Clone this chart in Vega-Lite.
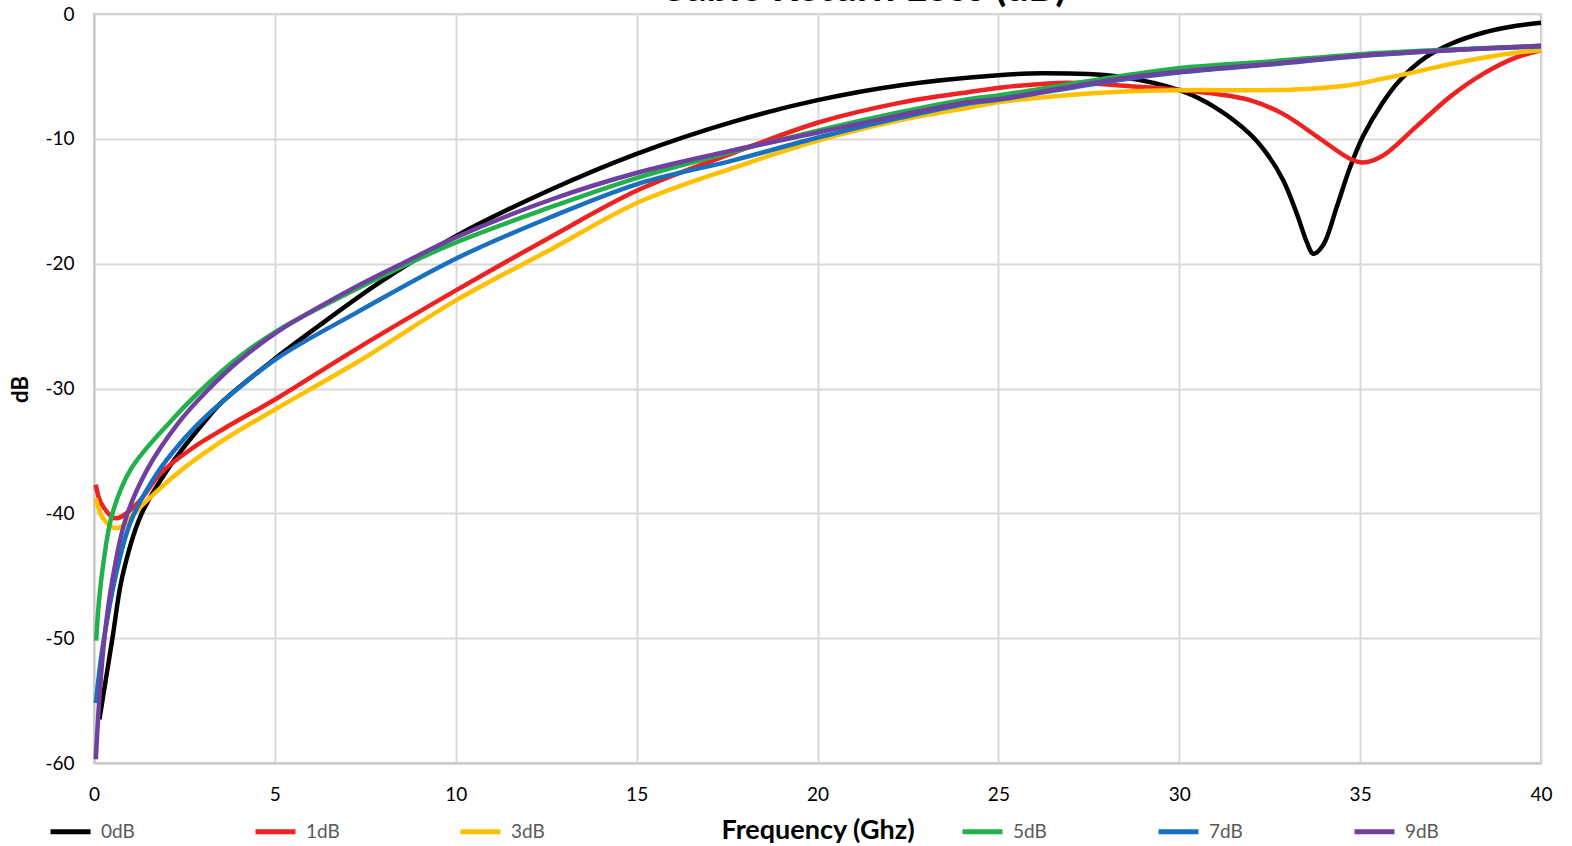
{
"$schema": "https://vega.github.io/schema/vega-lite/v6.json",
"width": 1447, "height": 749,
"autosize": {"type": "none"},
"padding": {"left": 94, "top": 14, "right": 31, "bottom": 83},
"background": "white",
"title": {"text": "Cable Return Loss (dB)", "fontSize": 41, "fontWeight": "bold", "font": "Lato", "color": "#000000", "anchor": "middle", "frame": "group", "dx": 45, "dy": 39, "offset": 2, "baseline": "alphabetic"},
"config": {"view": {"stroke": "#c9c9c9", "strokeWidth": 2}, "font": "Lato"},
"data": {"values": [
{"s":"0dB","f":0.15,"db":-56.5},{"s":"0dB","f":0.51,"db":-50.0},{"s":"0dB","f":0.78,"db":-45.1},{"s":"0dB","f":1.29,"db":-40.2},{"s":"0dB","f":2.03,"db":-36.5},{"s":"0dB","f":3.1,"db":-32.5},{"s":"0dB","f":3.57,"db":-31.0},{"s":"0dB","f":5.05,"db":-27.5},{"s":"0dB","f":6.3,"db":-24.8},{"s":"0dB","f":7.9,"db":-21.5},{"s":"0dB","f":10,"db":-17.8},{"s":"0dB","f":12.6,"db":-14.1},{"s":"0dB","f":15,"db":-11.2},{"s":"0dB","f":17.7,"db":-8.6},{"s":"0dB","f":20,"db":-6.9},{"s":"0dB","f":22.3,"db":-5.7},{"s":"0dB","f":25,"db":-4.9},{"s":"0dB","f":26.2,"db":-4.75},{"s":"0dB","f":28.3,"db":-5.0},{"s":"0dB","f":30.1,"db":-6.2},{"s":"0dB","f":31.0,"db":-7.5},{"s":"0dB","f":31.95,"db":-9.6},{"s":"0dB","f":32.4,"db":-11.1},{"s":"0dB","f":32.87,"db":-13.3},{"s":"0dB","f":33.25,"db":-16.0},{"s":"0dB","f":33.53,"db":-18.3},{"s":"0dB","f":33.7,"db":-19.2},{"s":"0dB","f":33.98,"db":-18.5},{"s":"0dB","f":34.36,"db":-15.4},{"s":"0dB","f":34.72,"db":-12.3},{"s":"0dB","f":35.08,"db":-9.8},{"s":"0dB","f":35.6,"db":-7.2},{"s":"0dB","f":36.1,"db":-5.3},{"s":"0dB","f":36.8,"db":-3.5},{"s":"0dB","f":37.5,"db":-2.4},{"s":"0dB","f":38.4,"db":-1.5},{"s":"0dB","f":39.2,"db":-1.0},{"s":"0dB","f":40,"db":-0.7},
{"s":"1dB","f":0.05,"db":-37.7},{"s":"1dB","f":0.2,"db":-39.2},{"s":"1dB","f":0.6,"db":-40.4},{"s":"1dB","f":1.2,"db":-39.2},{"s":"1dB","f":1.84,"db":-36.8},{"s":"1dB","f":2.76,"db":-34.7},{"s":"1dB","f":3.6,"db":-33.2},{"s":"1dB","f":5.05,"db":-30.8},{"s":"1dB","f":7.27,"db":-26.8},{"s":"1dB","f":10.03,"db":-22.1},{"s":"1dB","f":12.6,"db":-17.9},{"s":"1dB","f":15.04,"db":-14.1},{"s":"1dB","f":17.7,"db":-11.1},{"s":"1dB","f":20.07,"db":-8.65},{"s":"1dB","f":22.3,"db":-7.1},{"s":"1dB","f":24.2,"db":-6.25},{"s":"1dB","f":25.04,"db":-5.9},{"s":"1dB","f":26.9,"db":-5.5},{"s":"1dB","f":28.7,"db":-5.8},{"s":"1dB","f":30.1,"db":-6.1},{"s":"1dB","f":31.0,"db":-6.4},{"s":"1dB","f":31.95,"db":-6.9},{"s":"1dB","f":32.87,"db":-8.0},{"s":"1dB","f":33.8,"db":-9.8},{"s":"1dB","f":34.72,"db":-11.6},{"s":"1dB","f":35.08,"db":-11.9},{"s":"1dB","f":35.6,"db":-11.4},{"s":"1dB","f":36.56,"db":-9.0},{"s":"1dB","f":37.5,"db":-6.6},{"s":"1dB","f":38.4,"db":-4.8},{"s":"1dB","f":39.3,"db":-3.5},{"s":"1dB","f":40,"db":-2.9},
{"s":"3dB","f":0.05,"db":-38.8},{"s":"3dB","f":0.25,"db":-40.4},{"s":"3dB","f":0.64,"db":-41.2},{"s":"3dB","f":1.38,"db":-39.2},{"s":"3dB","f":2.3,"db":-36.8},{"s":"3dB","f":3.6,"db":-34.1},{"s":"3dB","f":5.05,"db":-31.6},{"s":"3dB","f":7.27,"db":-27.9},{"s":"3dB","f":10.03,"db":-22.9},{"s":"3dB","f":12.6,"db":-18.9},{"s":"3dB","f":15.04,"db":-15.1},{"s":"3dB","f":17.7,"db":-12.3},{"s":"3dB","f":20.07,"db":-10.1},{"s":"3dB","f":22.3,"db":-8.5},{"s":"3dB","f":24.2,"db":-7.5},{"s":"3dB","f":25.04,"db":-7.05},{"s":"3dB","f":26.9,"db":-6.5},{"s":"3dB","f":28.5,"db":-6.2},{"s":"3dB","f":30.1,"db":-6.1},{"s":"3dB","f":32.4,"db":-6.1},{"s":"3dB","f":33.5,"db":-6.0},{"s":"3dB","f":34.7,"db":-5.7},{"s":"3dB","f":35.6,"db":-5.2},{"s":"3dB","f":36.6,"db":-4.6},{"s":"3dB","f":37.5,"db":-4.0},{"s":"3dB","f":38.4,"db":-3.5},{"s":"3dB","f":39.3,"db":-3.1},{"s":"3dB","f":40,"db":-2.9},
{"s":"5dB","f":0.06,"db":-50.2},{"s":"5dB","f":0.13,"db":-47.3},{"s":"5dB","f":0.25,"db":-44.2},{"s":"5dB","f":0.5,"db":-40.1},{"s":"5dB","f":1.01,"db":-36.5},{"s":"5dB","f":2.16,"db":-32.5},{"s":"5dB","f":3.12,"db":-29.7},{"s":"5dB","f":4.0,"db":-27.5},{"s":"5dB","f":5.05,"db":-25.4},{"s":"5dB","f":7.27,"db":-22.0},{"s":"5dB","f":9.84,"db":-18.5},{"s":"5dB","f":12.6,"db":-15.5},{"s":"5dB","f":15.04,"db":-13.1},{"s":"5dB","f":17.7,"db":-11.0},{"s":"5dB","f":20.07,"db":-9.3},{"s":"5dB","f":22.3,"db":-7.85},{"s":"5dB","f":24.2,"db":-6.8},{"s":"5dB","f":25.04,"db":-6.5},{"s":"5dB","f":28.3,"db":-5.0},{"s":"5dB","f":30.1,"db":-4.3},{"s":"5dB","f":32.5,"db":-3.8},{"s":"5dB","f":35.1,"db":-3.2},{"s":"5dB","f":37.5,"db":-2.85},{"s":"5dB","f":40,"db":-2.55},
{"s":"7dB","f":0.05,"db":-55.2},{"s":"7dB","f":0.2,"db":-51.5},{"s":"7dB","f":0.36,"db":-48.6},{"s":"7dB","f":0.6,"db":-45.0},{"s":"7dB","f":1.01,"db":-40.7},{"s":"7dB","f":1.74,"db":-36.8},{"s":"7dB","f":2.38,"db":-34.4},{"s":"7dB","f":3.0,"db":-32.5},{"s":"7dB","f":3.57,"db":-31.0},{"s":"7dB","f":5.05,"db":-27.6},{"s":"7dB","f":7.27,"db":-23.9},{"s":"7dB","f":10.0,"db":-19.6},{"s":"7dB","f":12.6,"db":-16.3},{"s":"7dB","f":15.04,"db":-13.6},{"s":"7dB","f":17.7,"db":-11.7},{"s":"7dB","f":20.07,"db":-9.85},{"s":"7dB","f":22.3,"db":-8.3},{"s":"7dB","f":24.2,"db":-7.15},{"s":"7dB","f":25.04,"db":-6.85},{"s":"7dB","f":28.3,"db":-5.3},{"s":"7dB","f":30.1,"db":-4.65},{"s":"7dB","f":32.5,"db":-4.05},{"s":"7dB","f":35.1,"db":-3.35},{"s":"7dB","f":37.5,"db":-2.9},{"s":"7dB","f":40,"db":-2.6},
{"s":"9dB","f":0.05,"db":-59.7},{"s":"9dB","f":0.14,"db":-55.2},{"s":"9dB","f":0.28,"db":-50.2},{"s":"9dB","f":0.51,"db":-45.3},{"s":"9dB","f":0.88,"db":-40.4},{"s":"9dB","f":1.47,"db":-36.5},{"s":"9dB","f":2.35,"db":-32.7},{"s":"9dB","f":3.12,"db":-30.2},{"s":"9dB","f":4.0,"db":-27.8},{"s":"9dB","f":5.05,"db":-25.5},{"s":"9dB","f":7.27,"db":-21.8},{"s":"9dB","f":8.65,"db":-19.8},{"s":"9dB","f":9.84,"db":-18.1},{"s":"9dB","f":12.6,"db":-14.9},{"s":"9dB","f":15.04,"db":-12.7},{"s":"9dB","f":17.7,"db":-10.9},{"s":"9dB","f":20.07,"db":-9.45},{"s":"9dB","f":22.3,"db":-8.1},{"s":"9dB","f":24.2,"db":-7.05},{"s":"9dB","f":25.04,"db":-6.8},{"s":"9dB","f":28.3,"db":-5.2},{"s":"9dB","f":30.1,"db":-4.6},{"s":"9dB","f":32.5,"db":-4.0},{"s":"9dB","f":35.1,"db":-3.3},{"s":"9dB","f":37.5,"db":-2.9},{"s":"9dB","f":40,"db":-2.55}
]},
"encoding": {
  "x": {"field": "f", "type": "quantitative", "scale": {"domain": [0, 40], "nice": false},
        "axis": {"title": "Frequency (Ghz)", "values": [0,5,10,15,20,25,30,35,40], "labelFlush": false, "grid": true, "gridColor": "#d9d9d9", "gridWidth": 2, "domainColor": "#c9c9c9", "domainWidth": 2, "ticks": false, "labelPadding": 22, "labelFontSize": 19, "labelColor": "#000000", "labelFont": "Lato", "titleFont": "Lato", "titleFontSize": 27, "titleFontWeight": "bold", "titleColor": "#000000", "titleY": 67, "titleBaseline": "middle"}},
  "y": {"field": "db", "type": "quantitative", "scale": {"domain": [-60, 0], "nice": false},
        "axis": {"title": "dB", "values": [-60,-50,-40,-30,-20,-10,0], "labelExpr": "toString(datum.value)", "labelFlush": false, "grid": true, "gridColor": "#d9d9d9", "gridWidth": 2, "domainColor": "#c9c9c9", "domainWidth": 2, "ticks": false, "labelPadding": 20, "labelFontSize": 19, "labelColor": "#000000", "labelFont": "Lato", "titleFont": "Lato", "titleFontSize": 22, "titleFontWeight": "bold", "titleColor": "#000000", "titleX": -74, "titleY": 375, "titleAngle": 270, "titleAlign": "center", "titleBaseline": "middle"}}
},
"layer": [
  {"transform": [{"filter": {"field": "s", "oneOf": ["0dB","1dB","3dB"]}}],
   "mark": {"type": "line", "strokeWidth": 4.5, "interpolate": "catmull-rom"},
   "encoding": {"color": {"field": "s", "type": "nominal", "scale": {"domain": ["0dB","1dB","3dB"], "range": ["#000000","#ee2222","#ffc000"]},
     "legend": {"orient": "none", "legendX": -46, "legendY": 795, "direction": "horizontal", "title": null, "symbolType": "stroke", "symbolSize": 1600, "symbolStrokeWidth": 5, "labelFontSize": 19, "labelFont": "Lato", "labelColor": "#595959", "labelOffset": 8, "columnPadding": 110}}}},
  {"transform": [{"filter": {"field": "s", "oneOf": ["5dB","7dB","9dB"]}}],
   "mark": {"type": "line", "strokeWidth": 4.5, "interpolate": "catmull-rom"},
   "encoding": {"stroke": {"field": "s", "type": "nominal", "scale": {"domain": ["5dB","7dB","9dB"], "range": ["#22b04c","#1a70c0","#7040a0"]},
     "legend": {"orient": "none", "legendX": 866, "legendY": 795, "direction": "horizontal", "title": null, "symbolType": "stroke", "symbolSize": 1600, "symbolStrokeWidth": 5, "labelFontSize": 19, "labelFont": "Lato", "labelColor": "#595959", "labelOffset": 8, "columnPadding": 101}}}}
]
}
